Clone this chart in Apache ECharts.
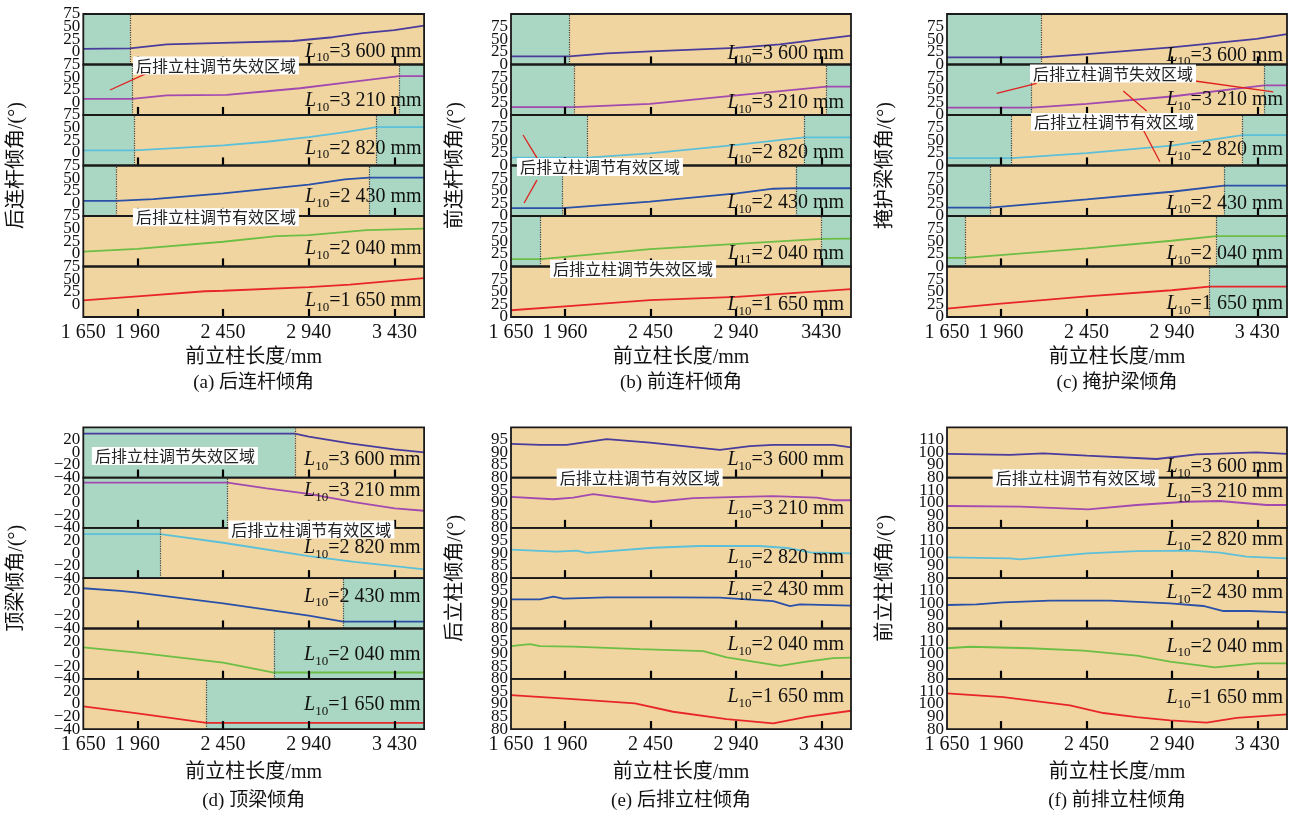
<!DOCTYPE html>
<html><head><meta charset="utf-8">
<script src="https://cdn.jsdelivr.net/npm/echarts@6/dist/echarts.min.js"></script>
<style>html,body{margin:0;padding:0;background:#fff}#c{width:1295px;height:816px}</style>
</head><body><div id="c"></div>
<script>
// ---------------- DATA ----------------
const xTickValues = [1960, 2450, 2940, 3430];
const xLabelValues = [1650, 1960, 2450, 2940, 3430];
const xLabelText = ['1 650', '1 960', '2 450', '2 940', '3 430'];
const xLabelTextB = ['1 650', '1 960', '2 450', '2 940', '3430'];
const l10Values = ['3 600', '3 210', '2 820', '2 430', '2 040', '1 650'];
const l10Sub = ['10', '10', '10', '10', '10', '10'];
const l10SubB = ['10', '10', '10', '10', '11', '10'];

// y tick labels per panel
const yLabelsA = [0, 25, 50, 75];
const yLabelsB = [0, 25, 50, 75];
const yLabelsC = [0, 25, 50, 75];
const yLabelsD = [-40, -20, 0, 20];
const yLabelsE = [80, 85, 90, 95];
const yLabelsF = [80, 90, 100, 110];

// (a) 后连杆倾角
const a3600 = [[1650,6],[1917,7],[2127,15],[2450,18],[2850,21.5],[3077,29],[3250,37],[3430,43],[3600,52]];
const a3210 = [[1650,7],[1930,7],[2127,14],[2470,15],[2700,22],[2889,28],[3175,40],[3457,52],[3600,52]];
const a2820 = [[1650,5],[1942,5],[2200,10],[2450,15],[2698,22],[2940,31],[3150,41],[3327,51],[3600,51]];
const a2430 = [[1650,5],[1837,5],[2050,8.5],[2450,19.6],[2940,37],[3146,47.5],[3285,51],[3600,51]];
const a2040 = [[1650,4.6],[1960,10],[2450,24],[2756,35],[2940,37],[3270,47],[3600,50]];
const a1650 = [[1650,8],[1960,16],[2346,26],[2450,27],[2940,34],[3175,39],[3600,52]];
const tealA = [[[1650,1917]], [[1650,1930],[3457,3600]], [[1650,1942],[3327,3600]], [[1650,1837],[3285,3600]], [], []];

// (b) 前连杆倾角
const b3600 = [[1650,16],[1984,16],[2200,22],[2450,26],[2940,33],[3192,40],[3600,57]];
const b3210 = [[1650,15.4],[2011,15.4],[2447,22],[2944,39],[3460,56],[3600,56]];
const b2820 = [[1650,15.6],[2088,15.6],[2447,24],[2944,41],[3330,55.6],[3600,55.6]];
const b2430 = [[1650,15.4],[1946,15.4],[2447,28.6],[2944,45],[3154,54],[3284,55],[3600,55]];
const b2040 = [[1650,14.6],[1820,14.6],[2447,34.6],[2944,45],[3432,54.6],[3600,55]];
const b1650 = [[1650,13.4],[1960,21],[2447,33.4],[2944,40],[3600,55]];
const tealB = [[[1650,1984]], [[1650,2011],[3460,3600]], [[1650,2088],[3330,3600]], [[1650,1946],[3284,3600]], [[1650,1820],[3432,3600]], []];

// (c) 掩护梁倾角
const c3600 = [[1650,14],[2189,14],[2451,20.6],[2938,34],[3426,50.6],[3600,60]];
const c3210 = [[1650,14.6],[2135,14.6],[2451,22],[2938,36.6],[3469,58.6],[3600,58.6]];
const c2820 = [[1650,14.6],[2021,14.6],[2451,24.6],[2938,39.4],[3345,60],[3600,60]];
const c2430 = [[1650,16.6],[1900,16.6],[2451,33],[2938,48],[3239,60],[3600,60]];
const c2040 = [[1650,17],[1753,17],[2451,36],[2938,51],[3196,60],[3600,60]];
const c1650 = [[1650,16.6],[1960,26.6],[2451,41],[2938,53],[3154,60],[3600,60]];
const tealC = [[[1650,2189]], [[1650,2135],[3469,3600]], [[1650,2021],[3345,3600]], [[1650,1900],[3239,3600]], [[1650,1753],[3196,3600]], [[3154,3600]]];

// (d) 顶梁倾角
const d3600 = [[1650,30],[2860,30],[2940,25],[3175,14.5],[3430,5],[3600,0]];
const d3210 = [[1650,32],[2475,32],[2699,23],[2940,14],[3200,1],[3432,-9],[3600,-12.7]];
const d2820 = [[1650,30],[2092,30],[2450,16.4],[2940,-4.8],[3200,-14],[3432,-20.7],[3600,-26]];
const d2430 = [[1650,24],[1860,20],[1960,17],[2450,0],[2940,-19.5],[3137,-29],[3600,-29]];
const d2040 = [[1650,10],[1960,1.6],[2450,-14.3],[2740,-30],[3600,-30]];
const d1650 = [[1650,-4],[1960,-15],[2355,-30],[3600,-30]];
const tealD = [[[1650,2860]], [[1650,2475]], [[1650,2092]], [[3137,3600]], [[2740,3600]], [[2355,3600]]];

// (e) 后排立柱倾角
const e3600 = [[1650,93.4],[1816,93],[1969,93],[2199,95.3],[2447,93.9],[2848,91],[3020,92.5],[3154,93],[3498,93],[3600,92]];
const e3210 = [[1650,92.3],[1893,91.4],[2007,92],[2122,93.4],[2466,90.3],[2695,91.8],[2963,92.3],[3154,92.6],[3403,92],[3498,91],[3600,91]];
const e2820 = [[1650,91.4],[1912,90.6],[2026,91],[2084,90.1],[2466,92.1],[2733,92.8],[3078,92.8],[3250,91.9],[3365,90.3],[3600,89.9]];
const e2430 = [[1650,91.6],[1816,91.6],[1893,92.7],[1950,91.9],[2199,92.4],[2580,92.4],[2848,92.3],[3154,90.9],[3250,88.9],[3307,89.6],[3600,89.1]];
const e2040 = [[1650,93],[1759,93.8],[1816,93],[2007,92.8],[2390,91.8],[2753,91],[2887,88.5],[3192,85.1],[3345,86.8],[3498,88.2],[3600,88.4]];
const e1650 = [[1650,93.5],[2007,91.9],[2361,90.2],[2580,86.9],[2887,84],[3154,82.3],[3345,84.9],[3600,87.3]];
const tealE = [[], [], [], [], [], []];

// (f) 前排立柱倾角
const f3600 = [[1650,98.8],[2011,98],[2202,99.3],[2451,97.4],[2852,94.8],[3082,98.5],[3426,100.1],[3600,98.8]];
const f3210 = [[1650,97.4],[2069,96.9],[2460,94.8],[2738,98.2],[3024,100.8],[3215,101.4],[3483,98.2],[3600,98.2]];
const f2820 = [[1650,96.6],[2011,95.8],[2069,95],[2451,99.8],[2738,101.6],[3043,101.9],[3215,100.3],[3368,97.1],[3600,95.8]];
const f2430 = [[1650,98.7],[1820,99.2],[1973,100.8],[2241,102.1],[2585,102.1],[2929,100],[3120,97.9],[3235,93.9],[3387,93.9],[3600,92.9]];
const f2040 = [[1650,104.3],[1782,105.5],[2126,104.3],[2432,102.4],[2738,98.4],[2929,93.6],[3187,89.1],[3426,92.3],[3600,92.3]];
const f1650 = [[1650,108.4],[1973,105.5],[2355,98.9],[2546,92.8],[2738,89.6],[2929,87],[3139,85.2],[3311,88.9],[3600,91.7]];
const tealF = [[], [], [], [], [], []];

// annotations (anchored in data coordinates of a subplot)
const annBoxes = [
  {p:0, s:1, x:2409, y:73, text:'后排立柱调节失效区域'},
  {p:0, s:4, x:2409, y:72.6, text:'后排立柱调节有效区域'},
  {p:1, s:3, x:2160, y:97, text:'后排立柱调节有效区域'},
  {p:1, s:5, x:2350, y:95, text:'后排立柱调节失效区域'},
  {p:2, s:1, x:2602, y:82, text:'后排立柱调节失效区域'},
  {p:2, s:2, x:2608, y:86, text:'后排立柱调节有效区域'},
  {p:3, s:0, x:2174, y:-5.6, text:'后排立柱调节失效区域'},
  {p:3, s:2, x:2955, y:37.5, text:'后排立柱调节有效区域'},
  {p:4, s:1, x:2388, y:100, text:'后排立柱调节有效区域'},
  {p:5, s:1, x:2388, y:119.4, text:'后排立柱调节有效区域'}
];
const annLeaders = [
  {p:0, s:1, from:[2012,57.6], to:[1803,24.5]},
  {p:1, s:2, from:[1799,15], to:[1719,60.4]},
  {p:1, s:3, from:[1799,71], to:[1725,25.7]},
  {p:2, s:1, from:[2164,62.8], to:[1935,43]},
  {p:2, s:1, from:[3072,67.3], to:[3521,46]},
  {p:2, s:1, from:[2795,7.9], to:[2661,47.5]},
  {p:2, s:2, from:[2776,70.3], to:[2871,7.5]}
];

// ---------------- STYLE / LAYOUT ----------------
const SERIF = "'Liberation Serif','Noto Sans CJK SC',serif";
const TAN = '#F0D5A0';
const TEAL = '#AAD6C4';
const COLORS = ['#4A3C9C', '#A24AB0', '#5CC0D8', '#2A50A8', '#6DBE45', '#E8262A'];
const XMIN = 1650, XMAX = 3600;
const colLeft = [83.3, 511, 947];
const colWidth = [340.8, 340, 340];
const rowTop = [14, 427.3];
const subH = [50.5, 50.3];
const yNameX = [17, 456, 886];
const TICK_FRAC = 0.16; // inward tick length as a fraction of the subplot height

const minusFmt = v => (v < 0 ? '\u2212' + (-v) : String(v));

const panels = [
  {col:0,row:0, yName:'后连杆倾角/(°)', caption:'(a) 后连杆倾角', series:[a3600,a3210,a2820,a2430,a2040,a1650], teal:tealA,
   y:{min:-25,max:75,interval:25}, yLabels:yLabelsA, xText:xLabelText, sub:l10Sub, off:[13,14,17,19,17.5,16], inset:2.5},
  {col:1,row:0, yName:'前连杆倾角/(°)', caption:'(b) 前连杆倾角', series:[b3600,b3210,b2820,b2430,b2040,b1650], teal:tealB,
   y:{min:0,max:100,interval:25}, yLabels:yLabelsB, xText:xLabelTextB, sub:l10SubB, off:[11,12,12.5,13,13,12], inset:7},
  {col:2,row:0, yName:'掩护梁倾角/(°)', caption:'(c) 掩护梁倾角', series:[c3600,c3210,c2820,c2430,c2040,c1650], teal:tealC,
   y:{min:0,max:100,interval:25}, yLabels:yLabelsC, xText:xLabelText, sub:l10Sub, off:[9,15,15.5,12.7,12.5,13], inset:4},
  {col:0,row:1, yName:'顶梁倾角/(°)', caption:'(d) 顶梁倾角', series:[d3600,d3210,d2820,d2430,d2040,d1650], teal:tealD,
   y:{min:-40,max:40,interval:20}, yLabels:yLabelsD, xText:xLabelText, sub:l10Sub, off:[17.6,37,30,32,24,24], inset:3.5},
  {col:1,row:1, yName:'后立柱倾角/(°)', caption:'(e) 后排立柱倾角', series:[e3600,e3210,e2820,e2430,e2040,e1650], teal:tealE,
   y:{min:80,max:100,interval:5}, yLabels:yLabelsE, xText:xLabelText, sub:l10Sub, off:[17.6,19.6,20,38.5,33.8,32.3], inset:7},
  {col:2,row:1, yName:'前立柱倾角/(°)', caption:'(f) 前排立柱倾角', series:[f3600,f3210,f2820,f2430,f2040,f1650], teal:tealF,
   y:{min:80,max:120,interval:10}, yLabels:yLabelsF, xText:xLabelText, sub:l10Sub, off:[11,36,38.5,35.5,32.5,31], inset:4}
];

const option = {backgroundColor:'#fff', animation:false, grid:[], xAxis:[], yAxis:[], series:[]};

function yAxisDef(gi, P, values) {
  return {
    gridIndex:gi, type:'value', min:P.y.min, max:P.y.max, interval:P.y.interval, position:'left', offset:0,
    axisLine:{show:false, onZero:false}, axisTick:{show:false}, splitLine:{show:false},
    axisLabel:{show:true, customValues:values, fontSize:17, fontFamily:SERIF, color:'#111', margin:3,
      hideOverlap:false, showMinLabel:true, showMaxLabel:true, formatter:minusFmt}
  };
}

const DOTTED = {type:'dotted', color:'#444', width:1.2};
const TICKSTYLE = {type:'solid', color:'#000', width:2.2};

panels.forEach((P, pi) => {
  for (let k = 0; k < 6; k++) {
    const gi = pi * 6 + k;
    const left = colLeft[P.col], width = colWidth[P.col];
    const top = rowTop[P.row] + k * subH[P.row], height = subH[P.row];
    option.grid.push({left, top, width, height, show:true, backgroundColor:TAN, borderWidth:0, containLabel:false, outerBoundsMode:'none'});
    const isBottom = k === 5;
    const xText = P.xText;
    option.xAxis.push({
      gridIndex:gi, type:'value', min:XMIN, max:XMAX, position:'bottom',
      axisLine:{show:false, onZero:false}, splitLine:{show:false},
      axisTick:{show:false},
      axisLabel:{show:isBottom, customValues:xLabelValues, fontSize:20, fontFamily:SERIF, color:'#111', margin:6, hideOverlap:false,
        formatter: v => { const i = xLabelValues.indexOf(v); return i >= 0 ? xText[i] : ''; }}
    });
    option.yAxis.push(yAxisDef(gi, P, P.yLabels.filter((v, i) => i % 2 === 0)));
    option.yAxis.push(yAxisDef(gi, P, P.yLabels.filter((v, i) => i % 2 === 1)));
    const teal = P.teal[k];
    const bounds = [];
    teal.forEach(([a, b]) => { if (a > XMIN) bounds.push(a); if (b < XMAX) bounds.push(b); });
    const tickTop = P.y.min + (P.y.max - P.y.min) * TICK_FRAC;
    const mlData = bounds.map(v => ({xAxis:v, lineStyle:DOTTED}));
    xTickValues.forEach(v => mlData.push([{coord:[v, P.y.min], lineStyle:TICKSTYLE}, {coord:[v, tickTop]}]));
    const s = {
      type:'line', xAxisIndex:gi, yAxisIndex:2 * gi, data:P.series[k], symbol:'none', showSymbol:false, silent:true,
      lineStyle:{color:COLORS[k], width:1.8}, z:3,
      markLine:{silent:true, symbol:'none', label:{show:false}, emphasis:{disabled:true}, animation:false,
        lineStyle:DOTTED, data:mlData}
    };
    if (teal.length) s.markArea = {silent:true, itemStyle:{color:TEAL}, data: teal.map(([a, b]) => [{xAxis:a}, {xAxis:b}])};
    option.series.push(s);
  }
});

const chart = echarts.init(document.getElementById('c'), null, {renderer:'canvas'});
chart.setOption(option);

// ---------------- GRAPHICS (frames, labels, annotations) ----------------
const g = [];
option.grid.forEach(gr => {
  g.push({type:'rect', silent:true, z:100, shape:{x:gr.left, y:gr.top, width:gr.width, height:gr.height},
    style:{fill:null, stroke:'#1a1a1a', lineWidth:1.8}});
});
panels.forEach((P, pi) => {
  for (let k = 0; k < 6; k++) {
    const gi = pi * 6 + k;
    const gr = option.grid[gi];
    g.push({type:'text', silent:true, z:105, x: gr.left + gr.width - P.inset, y: gr.top + gr.height - P.off[k],
      style:{
        text:'{i|L}{s|' + P.sub[k] + '}{n|=' + l10Values[k] + ' mm}',
        align:'right', verticalAlign:'middle', textAlign:'right', textVerticalAlign:'middle',
        rich:{
          i:{font:"italic 20px 'Liberation Serif'", fill:'#111', lineHeight:26},
          s:{font:"13px 'Liberation Serif'", fill:'#111', lineHeight:17, verticalAlign:'bottom'},
          n:{font:"20px 'Liberation Serif'", fill:'#111', lineHeight:26}
        }
      }});
  }
  const top = rowTop[P.row], bottom = rowTop[P.row] + 6 * subH[P.row];
  const cx = colLeft[P.col] + colWidth[P.col] / 2;
  g.push({type:'text', silent:true, x: yNameX[P.col], y:(top + bottom) / 2, rotation:Math.PI / 2,
    style:{text:P.yName, font:"20px " + SERIF, fill:'#111', align:'center', verticalAlign:'middle', textAlign:'center', textVerticalAlign:'middle'}});
  g.push({type:'text', silent:true, x: cx, y: bottom + (P.row === 0 ? 40.5 : 44),
    style:{text:'前立柱长度/mm', font:"20px " + SERIF, fill:'#111', align:'center', verticalAlign:'middle', textAlign:'center', textVerticalAlign:'middle'}});
  g.push({type:'text', silent:true, x: cx, y: bottom + (P.row === 0 ? 66 : 72),
    style:{text:P.caption, font:"19px " + SERIF, fill:'#111', align:'center', verticalAlign:'middle', textAlign:'center', textVerticalAlign:'middle'}});
});
annLeaders.forEach(a => {
  const gi = a.p * 6 + a.s;
  const finder = {xAxisIndex:gi, yAxisIndex:2 * gi};
  const p1 = chart.convertToPixel(finder, a.from);
  const p2 = chart.convertToPixel(finder, a.to);
  g.push({type:'line', silent:true, z:110, shape:{x1:p1[0], y1:p1[1], x2:p2[0], y2:p2[1]}, style:{stroke:'#E0201C', lineWidth:1.3}});
});
annBoxes.forEach(a => {
  const gi = a.p * 6 + a.s;
  const p = chart.convertToPixel({xAxisIndex:gi, yAxisIndex:2 * gi}, [a.x, a.y]);
  g.push({type:'text', silent:true, z:120, x:p[0], y:p[1],
    style:{text:a.text, font:"16px 'Noto Sans CJK SC'", fill:'#222', backgroundColor:'#fff', padding:[1,3],
      align:'center', verticalAlign:'middle', textAlign:'center', textVerticalAlign:'middle'}});
});
chart.setOption({graphic: g});
</script></body></html>
